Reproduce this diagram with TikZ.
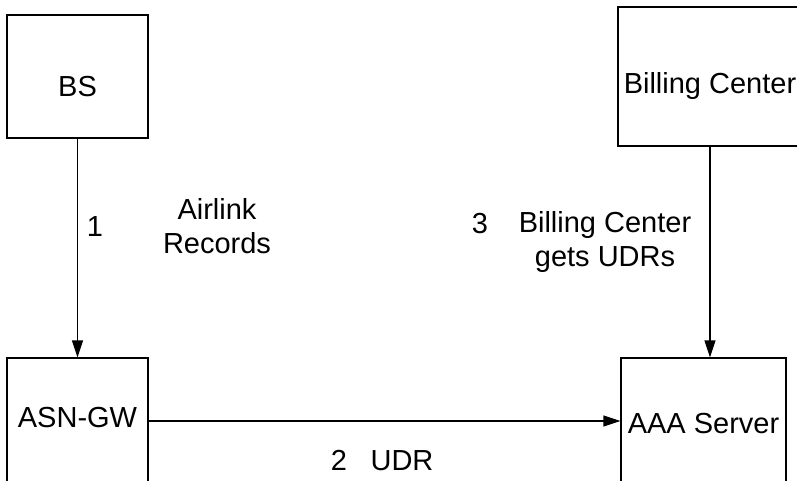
\documentclass[tikz,border=0pt]{standalone}
\usepackage{fontspec}
\setmainfont{Liberation Sans}
\usetikzlibrary{arrows.meta, positioning}

\tikzset{
  box/.style={draw, line width=1.1pt, inner sep=0pt, text depth=0pt, text height=#1},
  box/.default=21pt,
  flow/.style={-{Triangle[length=17pt,width=11pt]}, line width=1.1pt},
  note/.style={inner sep=0pt, align=center},
}

\begin{document}
\begin{tikzpicture}[x=1pt, y=-1pt, font=\fontsize{29}{34}\selectfont]
  \useasboundingbox (0,0) rectangle (797,481);

  % boxes
  \node[box=40.4pt, minimum width=141pt, minimum height=123pt] (BS) at (77.5,76.5) {BS};
  \node[box=33.6pt, minimum width=184pt, minimum height=139pt] (BC) at (710,76.5) {Billing Center};
  \node[box=12.6pt, minimum width=141pt, minimum height=126pt] (GW) at (77.5,421) {ASN-GW};
  \node[box=24.6pt, minimum width=165pt, minimum height=126pt] (AAA) at (703.5,421) {AAA Server};

  % flows
  \draw[flow] (BS) -- (GW);
  \draw[flow] (GW) -- (AAA);
  \draw[flow] (BC.south) -- (BC.south |- AAA.north);

  % step labels
  \node[anchor=base] (n1) at (95,236) {1};
  \node[note, anchor=north] (airlink) at (217,198) {Airlink\\Records};
  \node[anchor=base] (n3) at (480,233) {3};
  \node[note, anchor=north] (gets) at (605,211) {Billing Center\\gets UDRs};
  \node[anchor=base] (n2) at (339,470) {2};
  \node[anchor=base] (udr) at (402,470) {UDR};
\end{tikzpicture}
\end{document}
